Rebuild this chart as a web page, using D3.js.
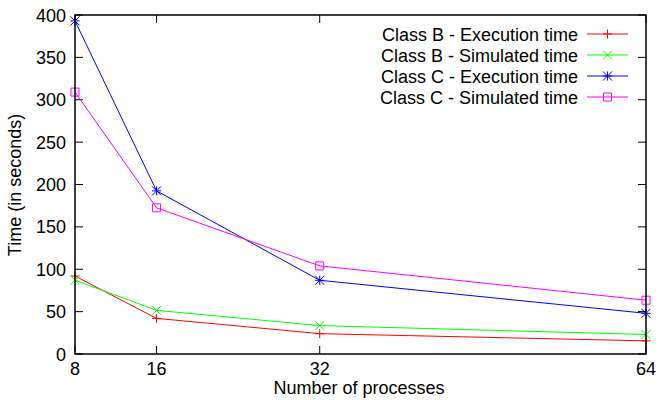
<!DOCTYPE html>
<html><head><meta charset="utf-8">
<script src="https://cdn.jsdelivr.net/npm/d3@7"></script>
<style>body{margin:0;background:#fff}svg{display:block}text{font-family:"Liberation Sans",Arial,sans-serif;font-size:18px;fill:#000}</style>
</head><body><svg id="c" width="659" height="400"></svg>
<script>
const processes = [8, 16, 32, 64];
const classBExec = [92, 42, 24, 15.5];
const classBSim = [87, 51.5, 33.5, 23];
const classCExec = [393, 192.5, 87, 48];
const classCSim = [309, 172.5, 104, 63.5];
const yTicks = [0, 50, 100, 150, 200, 250, 300, 350, 400];
const seriesNames = ["Class B - Execution time", "Class B - Simulated time", "Class C - Execution time", "Class C - Simulated time"];

const svg = d3.select("#c");
const L = 75, R = 646, T = 15, B = 354;
const x = d3.scaleLinear().domain([8, 64]).range([L, R]);
const y = d3.scaleLinear().domain([0, 400]).range([B, T]);

const series = [
  {name: seriesNames[0], vals: classBExec, color: "#ff0000", mark: "plus"},
  {name: seriesNames[1], vals: classBSim, color: "#00ff00", mark: "cross"},
  {name: seriesNames[2], vals: classCExec, color: "#0000ff", mark: "star"},
  {name: seriesNames[3], vals: classCSim, color: "#ff00ff", mark: "square"}
];

// ticks (inward, mirrored)
const tl = 8;
const tg = svg.append("g").attr("stroke", "#000").attr("stroke-width", 1);
yTicks.forEach(v => {
  tg.append("line").attr("x1", L).attr("x2", L + tl).attr("y1", y(v)).attr("y2", y(v));
  tg.append("line").attr("x1", R).attr("x2", R - tl).attr("y1", y(v)).attr("y2", y(v));
});
processes.forEach(v => {
  tg.append("line").attr("x1", x(v)).attr("x2", x(v)).attr("y1", B).attr("y2", B - tl);
  tg.append("line").attr("x1", x(v)).attr("x2", x(v)).attr("y1", T).attr("y2", T + tl);
});

// tick labels
svg.append("g").selectAll("text").data(yTicks).join("text")
  .attr("x", L - 9).attr("y", d => y(d) + 6.5).attr("text-anchor", "end").text(d => d);
svg.append("g").selectAll("text").data(processes).join("text")
  .attr("x", d => x(d)).attr("y", 375).attr("text-anchor", "middle").text(d => d);

// axis labels
svg.append("text").attr("x", 359).attr("y", 394).attr("text-anchor", "middle").text("Number of processes");
svg.append("text").attr("transform", "translate(21,185) rotate(-90)").attr("text-anchor", "middle").text("Time (in seconds)");

function marker(g, mark, cx, cy, color) {
  const s = 4.5;
  const p = g.append("path").attr("fill", "none").attr("stroke", color).attr("stroke-width", 1);
  let d;
  if (mark === "plus") d = `M${cx-s},${cy}H${cx+s}M${cx},${cy-s}V${cy+s}`;
  else if (mark === "cross") d = `M${cx-s},${cy-s}L${cx+s},${cy+s}M${cx-s},${cy+s}L${cx+s},${cy-s}`;
  else if (mark === "star") d = `M${cx-s},${cy}H${cx+s}M${cx},${cy-s}V${cy+s}M${cx-s},${cy-s}L${cx+s},${cy+s}M${cx-s},${cy+s}L${cx+s},${cy-s}`;
  else { const q = 4; d = `M${cx-q},${cy-q}H${cx+q}V${cy+q}H${cx-q}Z`; }
  p.attr("d", d);
}

const line = d3.line().x((d, i) => x(processes[i])).y(d => y(d));
series.forEach((s, k) => {
  const g = svg.append("g");
  g.append("path").datum(s.vals).attr("d", line).attr("fill", "none").attr("stroke", s.color).attr("stroke-width", 1);
  s.vals.forEach((v, i) => marker(g, s.mark, x(processes[i]), y(v), s.color));
  // legend
  const ly = 34 + k * 21;
  svg.append("text").attr("x", 578).attr("y", ly + 6.5).attr("text-anchor", "end").text(s.name);
  g.append("line").attr("x1", 587).attr("x2", 628).attr("y1", ly).attr("y2", ly).attr("stroke", s.color).attr("stroke-width", 1);
  marker(g, s.mark, 607.5, ly, s.color);
});

// frame
svg.append("rect").attr("x", L).attr("y", T).attr("width", R - L).attr("height", B - T)
  .attr("fill", "none").attr("stroke", "#000").attr("stroke-width", 1.5);
</script></body></html>
